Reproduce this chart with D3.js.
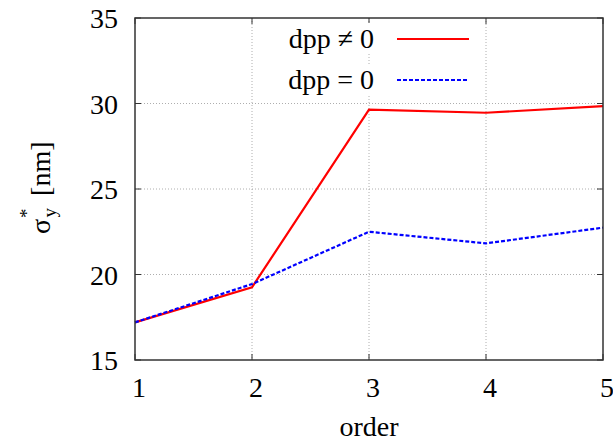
<!DOCTYPE html>
<html>
<head>
<meta charset="utf-8">
<script src="https://cdn.jsdelivr.net/npm/d3@7"></script>
<style>
  body { margin: 0; background: #fff; }
  svg text { font-family: "Liberation Serif", LiberationSerif, Tinos, "Times New Roman", Times, "Nimbus Roman", "Nimbus Roman No9 L", "DejaVu Serif", "Noto Serif", serif; }
</style>
</head>
<body>
<svg width="613" height="445"></svg>
<script>
// Data
let orders = [1, 2, 3, 4, 5];
let dppNonZero = [17.2, 19.25, 29.64, 29.46, 29.85];
let dppZero = [17.2, 19.44, 22.5, 21.82, 22.74];
let yTicks = [15, 20, 25, 30, 35];
let xTicks = [1, 2, 3, 4, 5];

let svg = d3.select("svg");
let plotLeft = 135, plotRight = 603, plotTop = 18, plotBottom = 360;
let fontSize = "28px";

let x = d3.scaleLinear().domain([1, 5]).range([plotLeft, plotRight]);
let y = d3.scaleLinear().domain([15, 35]).range([plotBottom, plotTop]);

// Grid lines
svg.append("g").selectAll("line")
    .data(yTicks.slice(1, -1))
    .enter().append("line")
    .attr("x1", plotLeft).attr("x2", plotRight)
    .attr("y1", d => y(d)).attr("y2", d => y(d))
    .style("stroke", "#999").style("stroke-width", 0.8)
    .style("stroke-dasharray", "1,2");
svg.append("g").selectAll("line")
    .data(xTicks.slice(1, -1))
    .enter().append("line")
    .attr("x1", d => x(d)).attr("x2", d => x(d))
    .attr("y1", plotTop).attr("y2", plotBottom)
    .style("stroke", "#999").style("stroke-width", 0.8)
    .style("stroke-dasharray", "1,2");

// Tick marks (inside, mirrored)
let tk = 6;
let ticks = svg.append("g").style("stroke", "#333").style("stroke-width", 1);
yTicks.forEach(d => {
    ticks.append("line").attr("x1", plotLeft).attr("x2", plotLeft + tk).attr("y1", y(d)).attr("y2", y(d));
    ticks.append("line").attr("x1", plotRight).attr("x2", plotRight - tk).attr("y1", y(d)).attr("y2", y(d));
});
xTicks.forEach(d => {
    ticks.append("line").attr("x1", x(d)).attr("x2", x(d)).attr("y1", plotBottom).attr("y2", plotBottom - tk);
    ticks.append("line").attr("x1", x(d)).attr("x2", x(d)).attr("y1", plotTop).attr("y2", plotTop + tk);
});

// Tick labels
svg.append("g").selectAll("text")
    .data(yTicks)
    .enter().append("text")
    .attr("x", 118).attr("y", d => y(d) + 10)
    .attr("text-anchor", "end")
    .style("font-size", fontSize)
    .text(d => d);
svg.append("g").selectAll("text")
    .data(xTicks)
    .enter().append("text")
    .attr("x", d => x(d) + 4).attr("y", 397)
    .attr("text-anchor", "middle")
    .style("font-size", fontSize)
    .text(d => d);

// Axis titles
svg.append("text")
    .attr("x", (plotLeft + plotRight) / 2).attr("y", 436)
    .attr("text-anchor", "middle")
    .style("font-size", fontSize)
    .text("order");

let yl = svg.append("text")
    .attr("transform", "translate(50,234) rotate(-90)")
    .attr("text-anchor", "start")
    .style("font-size", fontSize);
yl.append("tspan").text("σ");
yl.append("tspan").attr("dy", -17).attr("dx", 1).style("font-size", "19px").text("*");
yl.append("tspan").attr("dy", 23).attr("dx", -9).style("font-size", "19px").text("y");
yl.append("tspan").attr("dy", -6).attr("dx", 12).text("[nm]");

// Lines
let line = d3.line().x((d, i) => x(orders[i])).y(d => y(d));

svg.append("path")
    .datum(dppNonZero)
    .attr("d", line)
    .style("fill", "none").style("stroke", "#ff0000").style("stroke-width", 2.2);
svg.append("path")
    .datum(dppZero)
    .attr("d", line)
    .style("fill", "none").style("stroke", "#0000ff").style("stroke-width", 2.2)
    .style("stroke-dasharray", "4,2");

// Frame
svg.append("rect")
    .attr("x", plotLeft).attr("y", plotTop)
    .attr("width", plotRight - plotLeft).attr("height", plotBottom - plotTop)
    .style("fill", "none").style("stroke", "#333").style("stroke-width", 1.5);

// Legend
let legend = [
    { label: "dpp ≠ 0", color: "#ff0000", dash: null, y: 39 },
    { label: "dpp = 0", color: "#0000ff", dash: "4,2", y: 80 }
];
legend.forEach(l => {
    svg.append("rect")
        .attr("x", 276).attr("y", l.y - 16).attr("width", 200).attr("height", 30)
        .style("fill", "#fff");
    svg.append("text")
        .attr("x", 374).attr("y", l.y + 9)
        .attr("text-anchor", "end")
        .style("font-size", fontSize)
        .text(l.label);
    svg.append("line")
        .attr("x1", 397).attr("x2", 469).attr("y1", l.y).attr("y2", l.y)
        .style("stroke", l.color).style("stroke-width", 2.2)
        .style("stroke-dasharray", l.dash);
});
</script>
</body>
</html>
